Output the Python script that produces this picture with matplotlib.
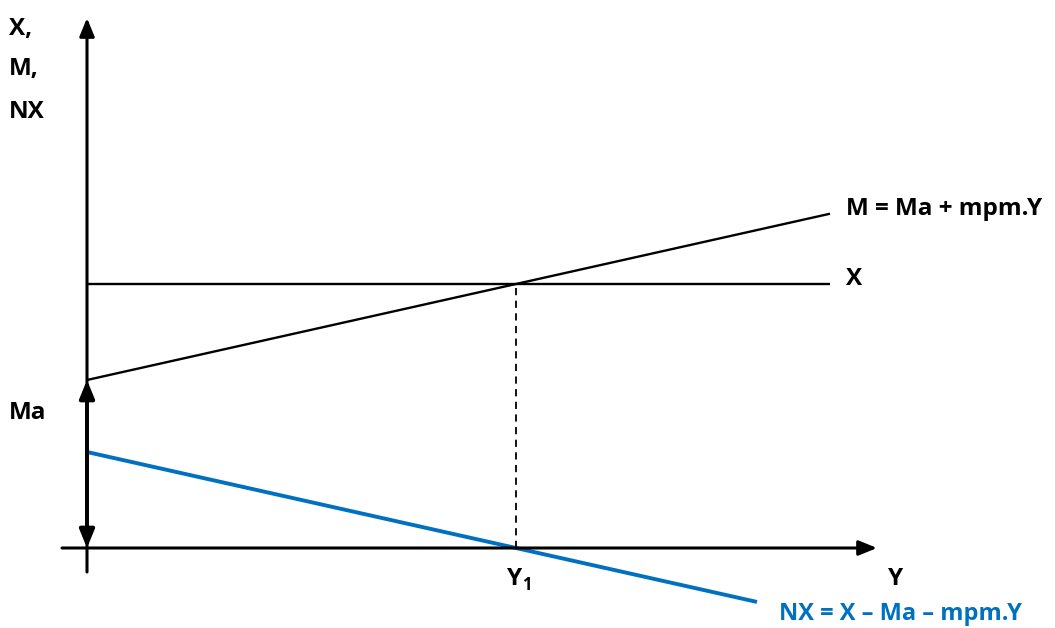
import matplotlib
matplotlib.use("Agg")
import matplotlib.pyplot as plt
import numpy as np

# Model parameters (chart units)
X_level = 264.0          # exports, independent of income
Ma = 168.0               # autonomous imports
mpm = 0.2238             # marginal propensity to import
Y_max_lines = 743.0      # extent of the X and M schedules
Y_max_nx = 670.0         # extent of the NX schedule

BLUE = "#0070C0"
FONT = "Open Sans"

fig = plt.figure(figsize=(10.55, 6.28), dpi=100)
ax = fig.add_axes([0, 0, 1, 1])
ax.set_xlim(-87, 968)
ax.set_ylim(-80, 548)
ax.axis("off")

# Axes with arrowheads
ax.annotate("", xy=(0, 530), xytext=(0, -24),
            arrowprops=dict(arrowstyle="-|>,head_length=1.1,head_width=0.45",
                            lw=2.2, color="black", shrinkA=0, shrinkB=0))
ax.annotate("", xy=(790, 0), xytext=(-25, 0),
            arrowprops=dict(arrowstyle="-|>,head_length=1.1,head_width=0.45",
                            lw=2.2, color="black", shrinkA=0, shrinkB=0))

# Autonomous imports marker on the vertical axis
ax.annotate("", xy=(0, Ma), xytext=(0, 0),
            arrowprops=dict(arrowstyle="<|-|>,head_length=1.1,head_width=0.45",
                            lw=2.8, color="black", shrinkA=0, shrinkB=0))

# Schedules
Y = np.array([0.0, Y_max_lines])
ax.plot(Y, [X_level, X_level], color="black", lw=1.7, solid_capstyle="butt")
ax.plot(Y, Ma + mpm * Y, color="black", lw=1.7, solid_capstyle="butt")

Ynx = np.array([0.0, Y_max_nx])
ax.plot(Ynx, X_level - Ma - mpm * Ynx, color=BLUE, lw=2.8, solid_capstyle="butt")

# Equilibrium income where X = M
Y1 = (X_level - Ma) / mpm
ax.plot([Y1, Y1], [0, X_level], color="black", lw=1.3, ls=(0, (4, 3)))

txt = dict(fontfamily=FONT, fontweight="bold", fontsize=17.5, va="baseline")
ax.text(-78, 513, "X,", ha="left", **txt)
ax.text(-78, 473, "M,", ha="left", **txt)
ax.text(-78, 430, "NX", ha="left", **txt)
ax.text(-78, 129, "Ma", ha="left", **txt)
ax.text(759, 333, "M = Ma + mpm.Y", ha="left", **txt)
ax.text(759, 263, "X", ha="left", **txt)
ax.text(809, -37, "Y", ha="center", **txt)
ax.text(Y1 - 9, -37, "Y", ha="left", **txt)
ax.text(Y1 + 6, -42, "1", ha="left", fontfamily=FONT, fontweight="bold",
        fontsize=12, va="baseline")
ax.text(692, -72, "NX = X \u2013 Ma \u2013 mpm.Y", ha="left", color=BLUE,
        fontfamily=FONT, fontweight="bold", fontsize=17, va="baseline")

fig.savefig("out.png", dpi=100)
